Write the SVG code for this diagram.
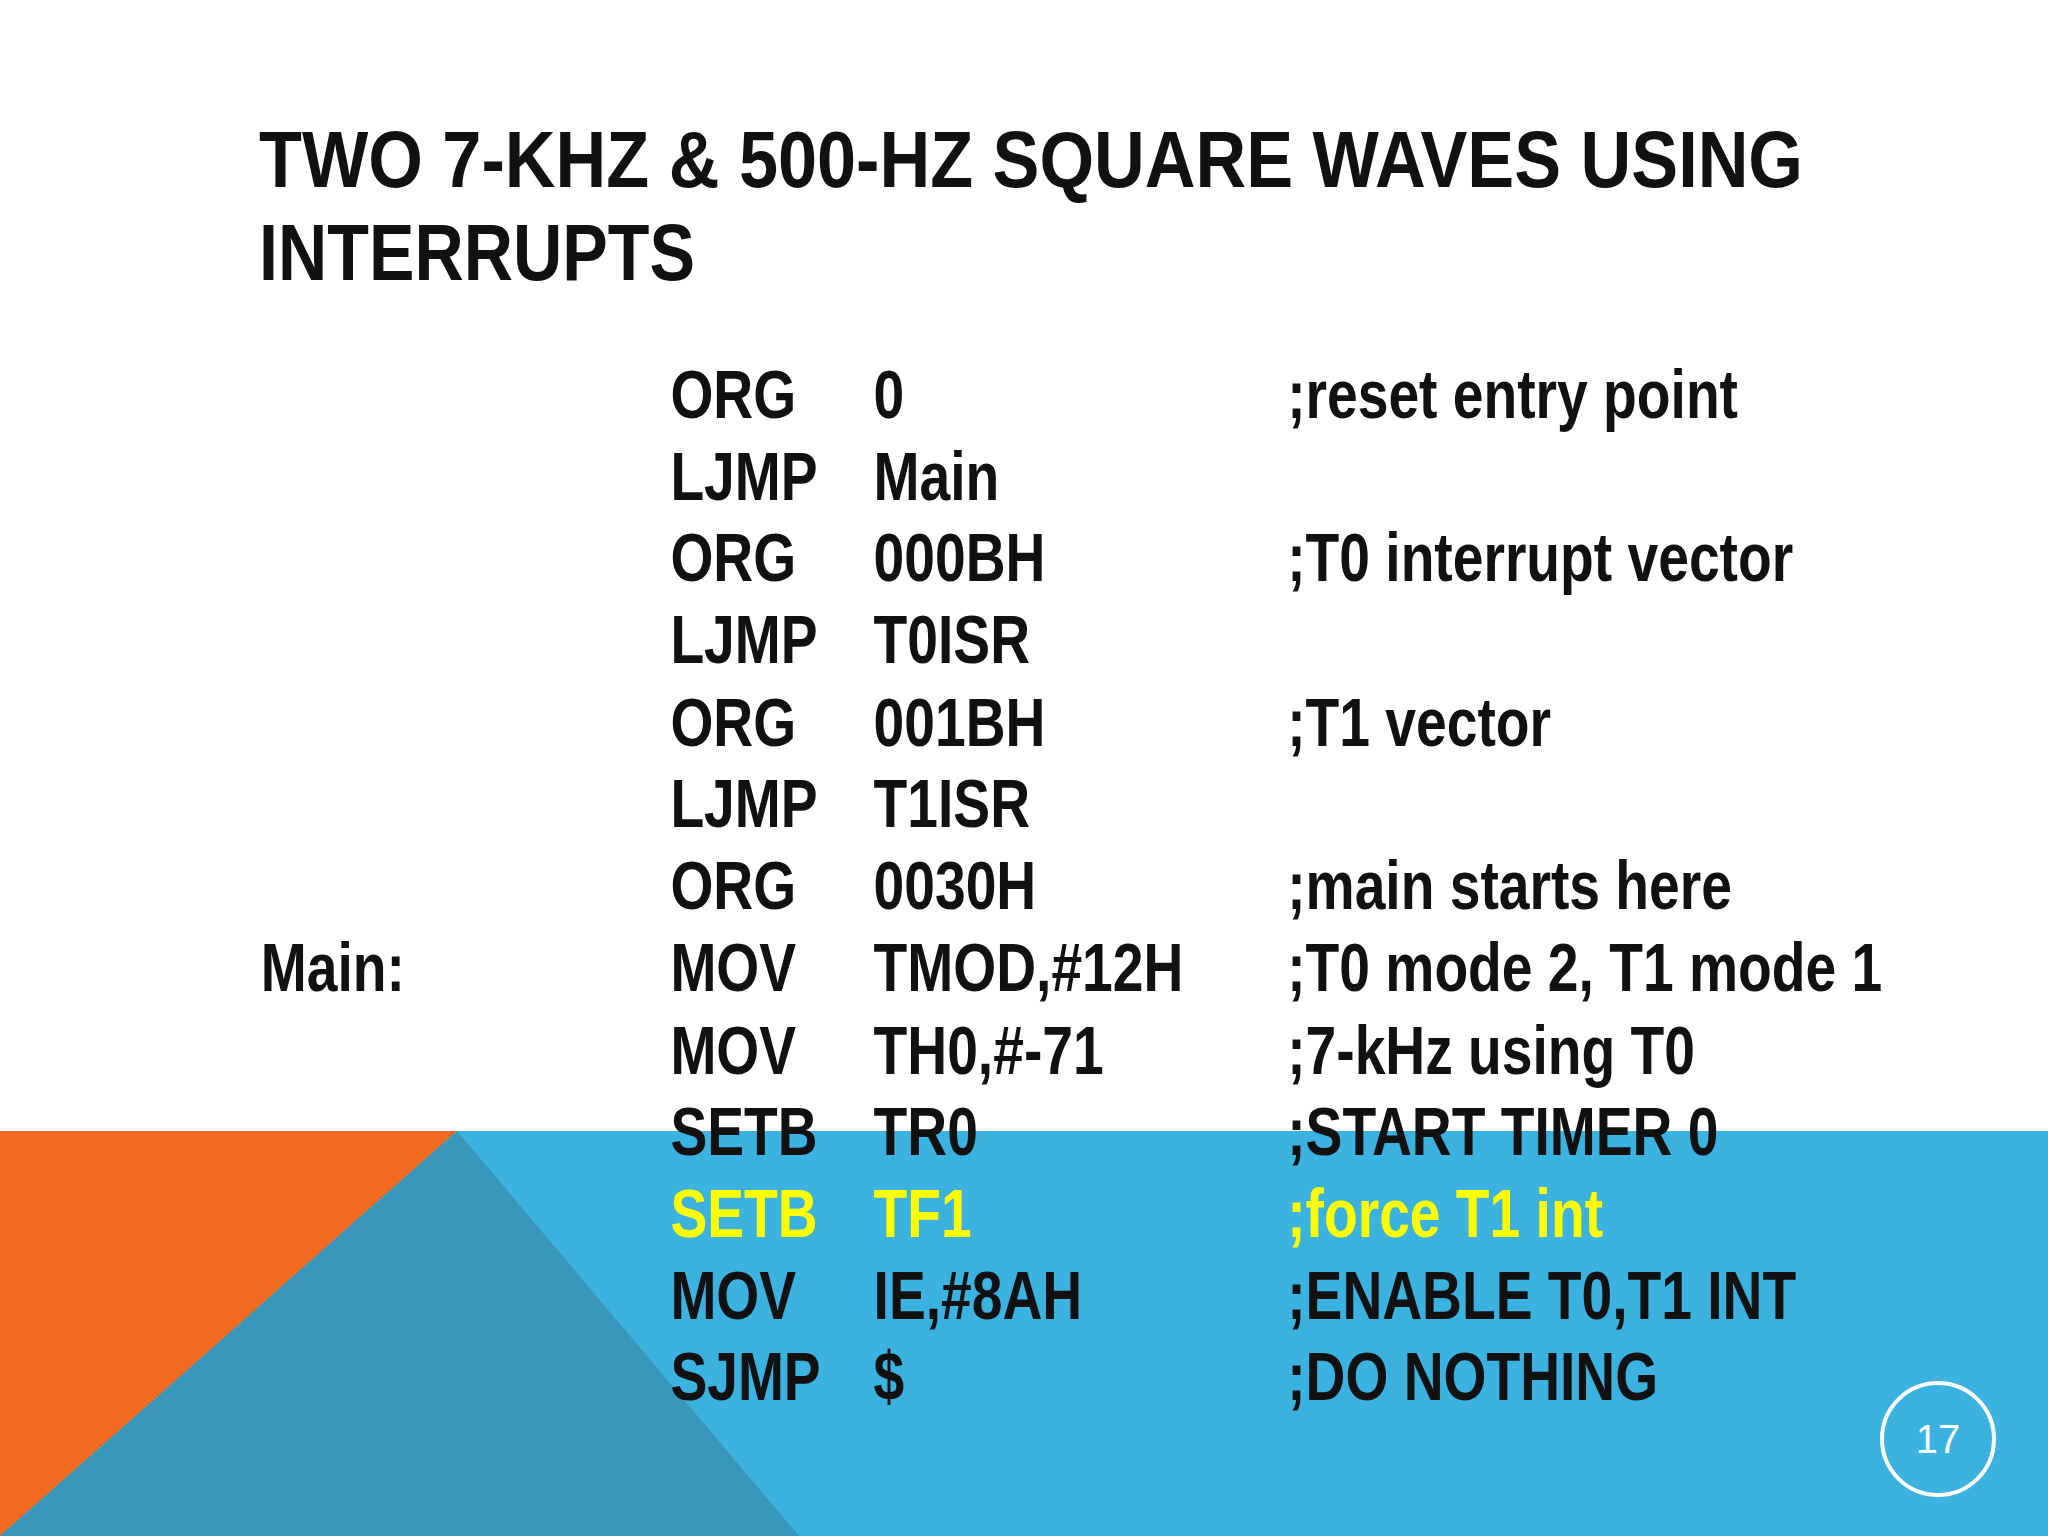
<svg xmlns="http://www.w3.org/2000/svg" width="2048" height="1536" viewBox="0 0 2048 1536">
<style>
.t{font-family:"Liberation Sans",Arial,sans-serif;font-weight:bold;fill:#111}
.c{font-family:"Liberation Sans",Arial,sans-serif;font-weight:bold;font-size:69px;fill:#111}
.y{fill:#ffff00}
</style>
<rect width="2048" height="1536" fill="#fff"/>
<g id="background">
<rect x="0" y="1131" width="2048" height="405" fill="#3bb2e0"/>
<polygon points="0,1131 457,1131 0,1536" fill="#f26b21"/>
<polygon points="457,1131 799,1536 0,1536" fill="#3a97ba"/>
</g>
<g id="title">
<text class="t" x="259" y="187" font-size="80" textLength="1544" lengthAdjust="spacingAndGlyphs">TWO 7-KHZ &amp; 500-HZ SQUARE WAVES USING</text>
<text class="t" x="259" y="280" font-size="80" textLength="436" lengthAdjust="spacingAndGlyphs">INTERRUPTS</text>
</g>
<g id="code" transform="scale(0.8,1)">
<text class="c" x="838" y="418">ORG</text><text class="c" x="1092" y="418">0</text><text class="c" x="1609" y="418">;reset entry point</text>
<text class="c" x="838" y="500">LJMP</text><text class="c" x="1092" y="500">Main</text>
<text class="c" x="838" y="581">ORG</text><text class="c" x="1092" y="581">000BH</text><text class="c" x="1609" y="581">;T0 interrupt vector</text>
<text class="c" x="838" y="663">LJMP</text><text class="c" x="1092" y="663">T0ISR</text>
<text class="c" x="838" y="746">ORG</text><text class="c" x="1092" y="746">001BH</text><text class="c" x="1609" y="746">;T1 vector</text>
<text class="c" x="838" y="827">LJMP</text><text class="c" x="1092" y="827">T1ISR</text>
<text class="c" x="838" y="909">ORG</text><text class="c" x="1092" y="909">0030H</text><text class="c" x="1609" y="909">;main starts here</text>
<text class="c" x="326" y="991">Main:</text><text class="c" x="838" y="991">MOV</text><text class="c" x="1092" y="991">TMOD,#12H</text><text class="c" x="1609" y="991">;T0 mode 2, T1 mode 1</text>
<text class="c" x="838" y="1074">MOV</text><text class="c" x="1092" y="1074">TH0,#-71</text><text class="c" x="1609" y="1074">;7-kHz using T0</text>
<text class="c" x="838" y="1155">SETB</text><text class="c" x="1092" y="1155">TR0</text><text class="c" x="1609" y="1155">;START TIMER 0</text>
<text class="c y" x="838" y="1237">SETB</text><text class="c y" x="1092" y="1237">TF1</text><text class="c y" x="1609" y="1237">;force T1 int</text>
<text class="c" x="838" y="1319">MOV</text><text class="c" x="1092" y="1319">IE,#8AH</text><text class="c" x="1609" y="1319">;ENABLE T0,T1 INT</text>
<text class="c" x="838" y="1400">SJMP</text><text class="c" x="1092" y="1400">$</text><text class="c" x="1609" y="1400">;DO NOTHING</text>
</g>
<g id="page">
<circle cx="1938" cy="1439" r="56" fill="none" stroke="#fff" stroke-width="4"/>
<text x="1938" y="1453" text-anchor="middle" font-family="Liberation Sans,Arial,sans-serif" font-size="40" fill="#fff">17</text>
</g>
</svg>
